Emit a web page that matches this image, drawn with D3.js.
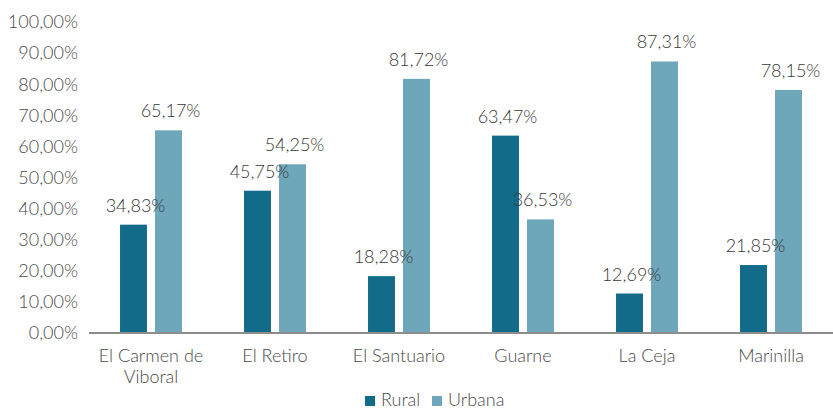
<!DOCTYPE html>
<html>
<head>
<meta charset="utf-8">
<script src="https://cdn.jsdelivr.net/npm/d3@7"></script>
<style>
  body { margin: 0; background: #fff; }
  svg { display: block; font-family: Lato, "Open Sans", sans-serif; font-weight: 300; }
</style>
</head>
<body>
<div id="chart"></div>
<script>
// Rural vs urban share per municipality
const categories = [["El Carmen de", "Viboral"], ["El Retiro"], ["El Santuario"], ["Guarne"], ["La Ceja"], ["Marinilla"]];
const seriesNames = ["Rural", "Urbana"];
const rural = [34.83, 45.75, 18.28, 63.47, 12.69, 21.85];
const urbana = [65.17, 54.25, 81.72, 36.53, 87.31, 78.15];
const yTicks = [0, 10, 20, 30, 40, 50, 60, 70, 80, 90, 100];
const colors = ["#136b8a", "#6fa7ba"];

const width = 833, height = 410;
const margin = { top: 22, right: 0, bottom: 77, left: 89 };
const fmt = v => v.toFixed(2).replace(".", ",") + "%";
const fontSize = 18;

const svg = d3.select("#chart").append("svg")
  .attr("width", width)
  .attr("height", height);

const x = d3.scaleBand()
  .domain(d3.range(categories.length))
  .range([margin.left, width - margin.right]);

const xInner = d3.scaleBand()
  .domain(seriesNames)
  .range([0, x.bandwidth()])
  .paddingInner(0.23)
  .paddingOuter(0.886);

const y = d3.scaleLinear()
  .domain([0, 100])
  .range([height - margin.bottom, margin.top]);

// y axis labels (no line, no ticks)
svg.append("g")
  .selectAll("text")
  .data(yTicks)
  .join("text")
  .attr("x", 78)
  .attr("y", d => y(d))
  .attr("dy", "0.35em")
  .attr("text-anchor", "end")
  .attr("fill", "#4a4a4a")
  .attr("font-size", fontSize)
  .text(d => d.toFixed(2).replace(".", ",") + "%");

const series = [rural, urbana];

const groups = svg.append("g")
  .selectAll("g")
  .data(series)
  .join("g")
  .attr("fill", (d, i) => colors[i]);

groups.selectAll("rect")
  .data((d, i) => d.map((v, j) => ({ v, j, s: seriesNames[i] })))
  .join("rect")
  .attr("x", d => x(d.j) + xInner(d.s))
  .attr("y", d => y(d.v))
  .attr("width", xInner.bandwidth())
  .attr("height", d => y(0) - y(d.v));

// value labels
svg.append("g")
  .selectAll("text")
  .data(series.flatMap((d, i) => d.map((v, j) => ({ v, j, s: seriesNames[i] }))))
  .join("text")
  .attr("x", d => x(d.j) + xInner(d.s) + xInner.bandwidth() / 2 + 2)
  .attr("y", d => y(d.v) - 13)
  .attr("text-anchor", "middle")
  .attr("fill", "#383838")
  .attr("font-size", fontSize)
  .text(d => fmt(d.v));

// baseline
svg.append("line")
  .attr("x1", margin.left)
  .attr("x2", width)
  .attr("y1", y(0))
  .attr("y2", y(0))
  .attr("stroke", "#8c8c8c")
  .attr("stroke-width", 2);

// category labels
const catText = svg.append("g")
  .selectAll("text")
  .data(categories)
  .join("text")
  .attr("x", (d, i) => x(i) + x.bandwidth() / 2)
  .attr("y", 362)
  .attr("text-anchor", "middle")
  .attr("fill", "#4a4a4a")
  .attr("font-size", fontSize);

catText.selectAll("tspan")
  .data(d => d)
  .join("tspan")
  .attr("x", function () { return this.parentNode.getAttribute("x"); })
  .attr("dy", (d, i) => i === 0 ? 0 : 21)
  .text(d => d);

// legend
const legend = svg.append("g").attr("transform", "translate(365,396)");
const legendX = [0, 67];
seriesNames.forEach((name, i) => {
  const g = legend.append("g").attr("transform", `translate(${legendX[i]},0)`);
  g.append("rect")
    .attr("width", 10)
    .attr("height", 10)
    .attr("fill", colors[i]);
  g.append("text")
    .attr("x", 16)
    .attr("y", 10)
    .attr("fill", "#4a4a4a")
    .attr("font-size", fontSize)
    .text(name);
});
</script>
</body>
</html>
